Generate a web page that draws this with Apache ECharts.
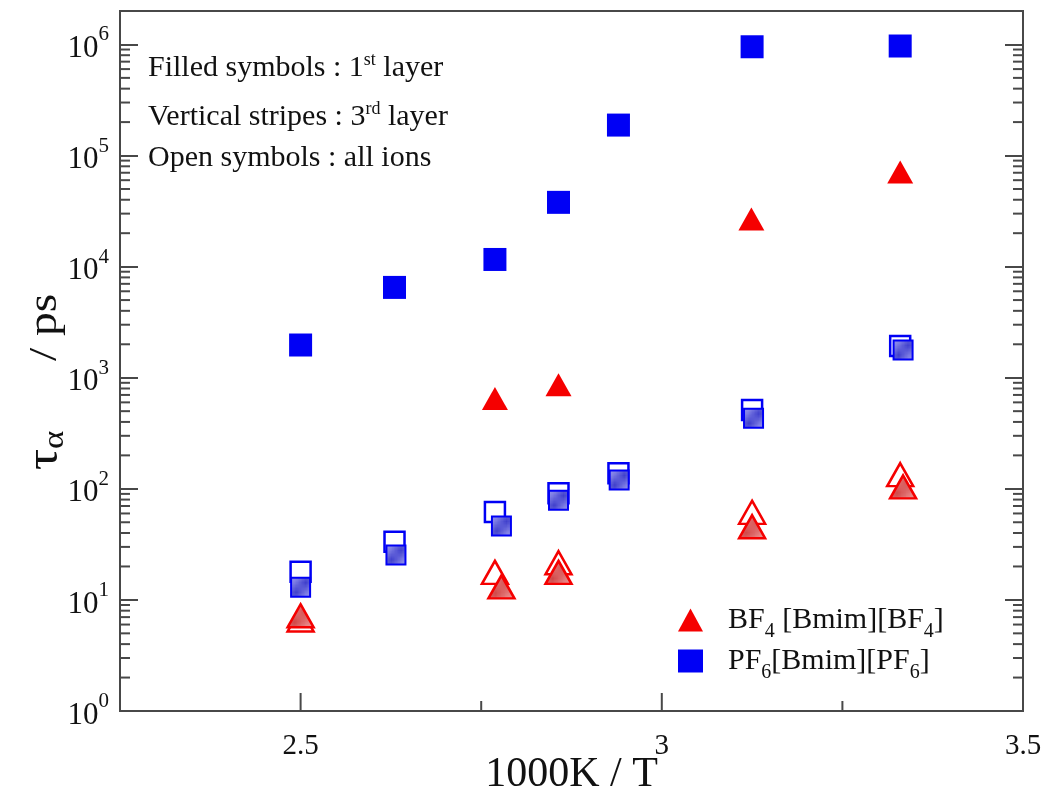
<!DOCTYPE html>
<html>
<head>
<meta charset="utf-8">
<script src="https://cdn.jsdelivr.net/npm/echarts@6/dist/echarts.min.js"></script>
<style>
  html, body { margin: 0; padding: 0; background: #fff; }
  #chart { width: 1051px; height: 789px; }
</style>
</head>
<body>
<div id="chart"></div>
<script>
// Relaxation time tau_alpha (ps) versus 1000K/T
const pf6FirstX = [2.5, 2.630, 2.769, 2.857, 2.940, 3.125, 3.330];
const pf6FirstY = [1970, 6500, 11600, 37900, 188000, 953000, 968000];
const bf4FirstX = [2.769, 2.857, 3.124, 3.330];
const bf4FirstY = [650, 865, 26800, 71000];

const pf6AllX = [2.5, 2.630, 2.769, 2.857, 2.940, 3.125, 3.330];
const pf6AllY = [17.9, 33.4, 62, 91, 138, 512, 1930];
const pf6ThirdX = [2.5, 2.632, 2.778, 2.857, 2.941, 3.127, 3.334];
const pf6ThirdY = [13.0, 25.4, 46.3, 79, 120, 431, 1775];

const bf4AllX = [2.5, 2.769, 2.857, 3.125, 3.330];
const bf4AllY = [6.6, 17.7, 21.6, 61.4, 134];
const bf4ThirdX = [2.5, 2.778, 2.857, 3.125, 3.334];
const bf4ThirdY = [7.2, 13.1, 17.7, 45.6, 104];

const xMin = 2.25, xMax = 3.5, xStep = 0.25;
const xMajorStep = 0.5;
const yMin = 1, yMax = 2e6;
const yDecades = [0, 1, 2, 3, 4, 5, 6];

const notes = [
  ['Filled symbols : 1', 'st', ' layer'],
  ['Vertical stripes : 3', 'rd', ' layer'],
  ['Open symbols : all ions', '', '']
];
const noteTops = [51, 100, 143];
const legendNames = ['BF4 [Bmim][BF4]', 'PF6[Bmim][PF6]'];

const SERIF = '"Liberation Serif", "DejaVu Serif", serif';
const FRAME = '#484848';
const TEXT = '#111';
const BLUE = '#0000f5';
const RED = '#f50000';
const MAJOR_LEN = 18, MINOR_LEN = 10;

function zip(xs, ys) { return xs.map((x, i) => [x, ys[i]]); }

function hatch(bg, line) {
  const c = document.createElement('canvas');
  c.width = 5; c.height = 5;
  const g = c.getContext('2d');
  g.fillStyle = bg; g.fillRect(0, 0, 5, 5);
  g.strokeStyle = line; g.lineWidth = 1.3;
  g.beginPath();
  g.moveTo(0, 5); g.lineTo(5, 0);
  g.moveTo(-1, 1); g.lineTo(1, -1);
  g.moveTo(4, 6); g.lineTo(6, 4);
  g.stroke();
  return { image: c, repeat: 'repeat' };
}

function isMajorX(v) { return Math.abs(v / xMajorStep - Math.round(v / xMajorStep)) < 1e-6; }

// Tick marks drawn through the axes' coordinate mapping
function renderTicks(params, api) {
  const cs = params.coordSys;
  const style = { stroke: FRAME, lineWidth: 2 };
  const children = [];
  const left = cs.x, right = cs.x + cs.width, bottom = cs.y + cs.height;
  yDecades.forEach(e => {
    for (let m = 2; m <= 9; m++) {
      const v = m * Math.pow(10, e);
      if (v >= yMax) continue;
      const y = api.coord([xMin, v])[1];
      children.push({ type: 'line', shape: { x1: left, y1: y, x2: left + MINOR_LEN, y2: y }, style });
      children.push({ type: 'line', shape: { x1: right, y1: y, x2: right - MINOR_LEN, y2: y }, style });
    }
  });
  for (let v = xMin + xStep; v < xMax - 1e-9; v += xStep) {
    const x = api.coord([v, yMin])[0];
    const len = isMajorX(v) ? MAJOR_LEN : MINOR_LEN;
    children.push({ type: 'line', shape: { x1: x, y1: bottom, x2: x, y2: bottom - len }, style });
  }
  return { type: 'group', children };
}

function legendFormatter(name) {
  return '{n|' + name.replace(/(\d)/g, '}{sub|$1}{n|') + '}';
}

const yAxisBase = {
  type: 'log', logBase: 10, min: yMin, max: yMax,
  axisLine: { show: false },
  splitLine: { show: false },
  minorTick: { show: false },
  axisTick: { show: true, inside: true, length: MAJOR_LEN, lineStyle: { color: FRAME, width: 2 } }
};

const chart = echarts.init(document.getElementById('chart'), null, { renderer: 'canvas' });
chart.setOption({
  animation: false,
  backgroundColor: '#fff',
  grid: {
    left: 120, right: 28, top: 11, bottom: 78,
    show: true, borderColor: FRAME, borderWidth: 2, backgroundColor: 'transparent',
    containLabel: false, outerBoundsMode: 'none'
  },
  xAxis: {
    type: 'value', min: xMin, max: xMax, interval: xStep,
    axisLine: { show: false }, axisTick: { show: false }, splitLine: { show: false },
    axisLabel: {
      margin: 21, fontFamily: SERIF, fontSize: 29, color: TEXT,
      showMinLabel: true, showMaxLabel: true,
      formatter: v => isMajorX(v) ? String(v) : ''
    },
    name: '1000K / T', nameLocation: 'middle', nameGap: 43, nameMoveOverlap: false,
    nameTextStyle: { fontFamily: SERIF, fontSize: 42, color: TEXT }
  },
  yAxis: [
    Object.assign({}, yAxisBase, {
      position: 'left',
      axisLabel: {
        margin: 11, showMaxLabel: false,
        formatter: v => {
          const e = Math.log10(v);
          if (Math.abs(e - Math.round(e)) > 1e-6) return '';
          return '{b|10}{s|' + Math.round(e) + '}';
        },
        rich: {
          b: { fontFamily: SERIF, fontSize: 31, color: TEXT, lineHeight: 40, verticalAlign: 'bottom' },
          s: { fontFamily: SERIF, fontSize: 21, color: TEXT, lineHeight: 20, verticalAlign: 'top' }
        }
      }
    }),
    Object.assign({}, yAxisBase, { position: 'right', axisLabel: { show: false } })
  ],
  legend: {
    orient: 'vertical', left: 673, top: 600, itemGap: 4,
    itemWidth: 25, itemHeight: 23,
    selectedMode: false,
    data: [
      { name: legendNames[0], icon: 'triangle' },
      { name: legendNames[1], icon: 'rect' }
    ],
    formatter: legendFormatter,
    textStyle: {
      padding: [0, 0, 0, 20],
      rich: {
        n: { fontFamily: SERIF, fontSize: 30, color: TEXT, lineHeight: 44 },
        sub: { fontFamily: SERIF, fontSize: 20, color: TEXT, lineHeight: 16, verticalAlign: 'bottom' }
      }
    }
  },
  graphic: [
    {
      type: 'text', x: 45, y: 382, rotation: Math.PI / 2, scaleX: 1.16, silent: true,
      style: {
        text: '{t|τ}{a|α}{n|/ ps}', align: 'center', verticalAlign: 'middle',
        rich: {
          t: { fontFamily: SERIF, fontSize: 46, fill: TEXT, lineHeight: 50 },
          a: { fontFamily: SERIF, fontSize: 30, fill: TEXT, lineHeight: 22, verticalAlign: 'bottom' },
          n: { fontFamily: SERIF, fontSize: 41, fill: TEXT, lineHeight: 50, padding: [0, 0, 0, 60] }
        }
      }
    }
  ].concat(notes.map((parts, i) => ({
    type: 'text', left: 148, top: noteTops[i], silent: true,
    style: {
      text: '{n|' + parts[0] + '}' + (parts[1] ? '{s|' + parts[1] + '}{n|' + parts[2] + '}' : ''),
      rich: {
        n: { fontFamily: SERIF, fontSize: 30, fill: TEXT, lineHeight: 34 },
        s: { fontFamily: SERIF, fontSize: 18, fill: TEXT, lineHeight: 14, verticalAlign: 'top' }
      }
    }
  }))),
  series: [
    {
      name: 'ticks', type: 'custom', renderItem: renderTicks, data: [[xMin, yMin]],
      silent: true, clip: false, z: 1, tooltip: { show: false }
    },
    {
      name: 'PF6 all ions', type: 'scatter', data: zip(pf6AllX, pf6AllY), z: 2,
      symbol: 'rect', symbolSize: 20,
      itemStyle: { color: '#fff', borderColor: BLUE, borderWidth: 2.5, opacity: 1 }
    },
    {
      name: 'BF4 all ions', type: 'scatter', data: zip(bf4AllX, bf4AllY), z: 2,
      symbol: 'triangle', symbolSize: [26, 23],
      itemStyle: { color: '#fff', borderColor: RED, borderWidth: 2.5, opacity: 1 }
    },
    {
      name: 'PF6 3rd layer', type: 'scatter', data: zip(pf6ThirdX, pf6ThirdY), z: 3,
      symbol: 'rect', symbolSize: 19,
      itemStyle: { color: hatch('#a0a0f0', '#4040cc'), borderColor: BLUE, borderWidth: 2, opacity: 1 }
    },
    {
      name: 'BF4 3rd layer', type: 'scatter', data: zip(bf4ThirdX, bf4ThirdY), z: 3,
      symbol: 'triangle', symbolSize: [26, 23],
      itemStyle: { color: hatch('#f2a4a4', '#d04848'), borderColor: RED, borderWidth: 2.5, opacity: 1 }
    },
    {
      name: legendNames[1], type: 'scatter', data: zip(pf6FirstX, pf6FirstY), z: 4,
      symbol: 'rect', symbolSize: 23, itemStyle: { color: BLUE, opacity: 1 }
    },
    {
      name: legendNames[0], type: 'scatter', data: zip(bf4FirstX, bf4FirstY), z: 4,
      symbol: 'triangle', symbolSize: [26, 23], itemStyle: { color: RED, opacity: 1 }
    }
  ].map(s => Object.assign({ emphasis: { disabled: true } }, s))
});
</script>
</body>
</html>
